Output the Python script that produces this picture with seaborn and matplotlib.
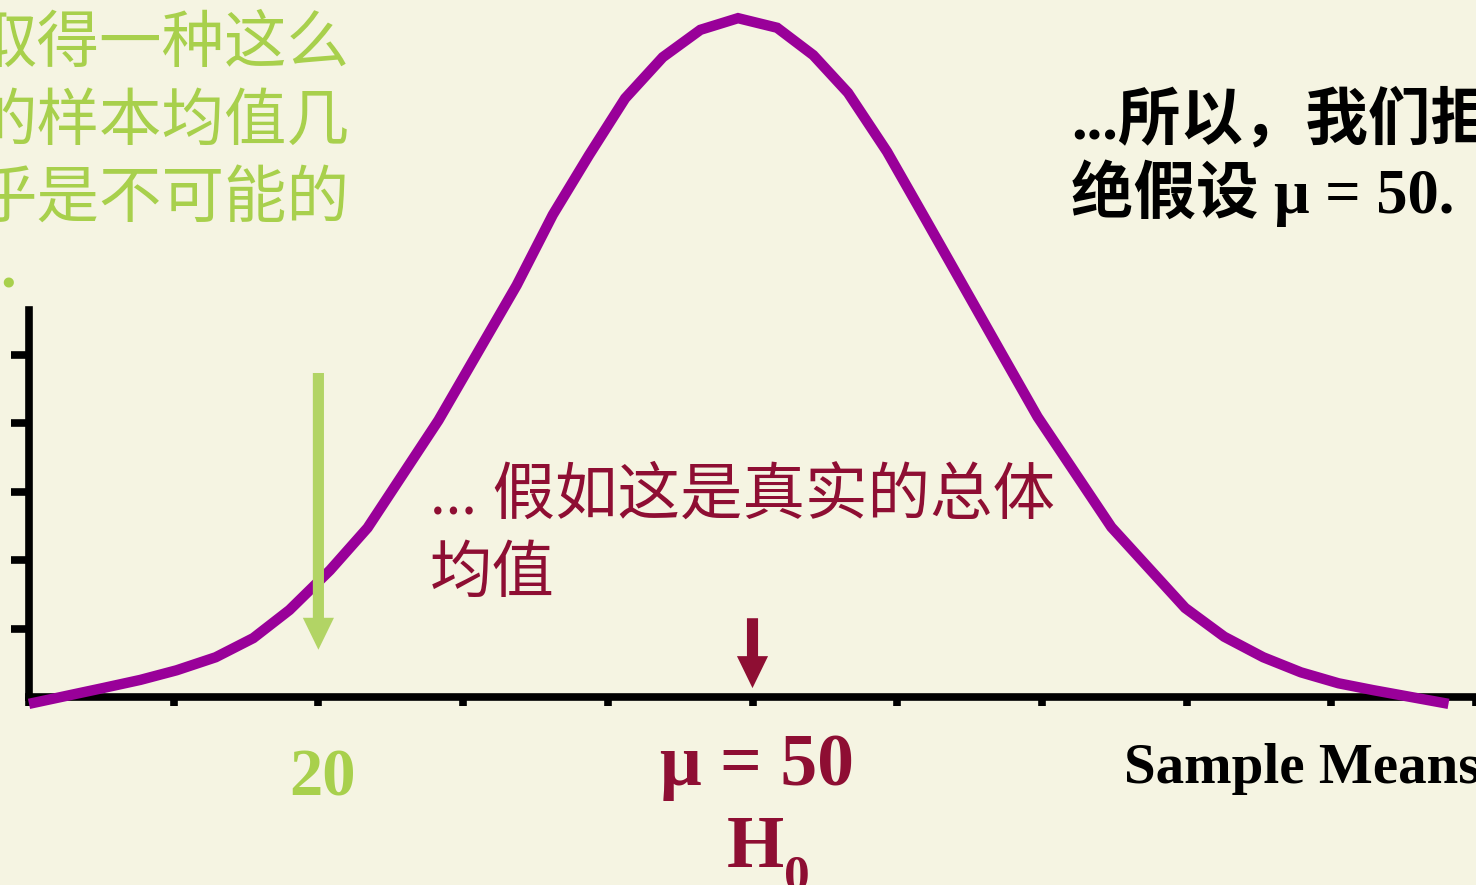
import pandas as pd
import seaborn as sns
import matplotlib.pyplot as plt

# Curve vertices (x = sample mean, y = height in y-tick units)
sample_means = [0, 5.1, 7.7, 10.2, 12.9, 15.5, 18.0, 20.8, 23.4, 28.3, 33.7, 36.2,
                38.7, 41.2, 43.8, 46.4, 49.0, 51.7, 54.2, 56.6, 59.3, 62.0, 64.6,
                67.2, 69.7, 74.8, 79.9, 82.6, 85.3, 87.9, 90.5, 92.9, 98.1]
heights = [-0.10, 0.13, 0.25, 0.39, 0.58, 0.86, 1.27, 1.85, 2.47, 4.04, 6.01, 7.04,
           7.91, 8.74, 9.34, 9.74, 9.91, 9.77, 9.37, 8.82, 7.96, 6.96, 5.99,
           5.02, 4.09, 2.48, 1.30, 0.88, 0.58, 0.36, 0.20, 0.10, -0.10]
x_ticks = [0, 10, 20, 30, 40, 50, 60, 70, 80, 90, 100]
y_ticks = [1, 2, 3, 4, 5]
sample_value = 20
null_mean = 50

green_lines = ["取得一种这么", "的样本均值几", "乎是不可能的"]
red_lines = ["... 假如这是真实的总体", "均值"]
black_lines = ["...所以，我们拒", "绝假设 μ = 50."]

bg = '#F5F4E2'
green = '#A8D04C'
green_arrow = '#B2D465'
dark_red = '#8E0E33'
purple = '#990099'

sns.set_theme(style='white', rc={'axes.facecolor': bg, 'figure.facecolor': bg})
plt.rcParams['font.family'] = ['Liberation Serif', 'Noto Sans CJK SC', 'DejaVu Sans']

W, H = 1476, 885
fig = plt.figure(figsize=(W / 100, H / 100), dpi=100)
ax = fig.add_axes([29 / W, 188 / H, 1447 / W, 697 / H])


def fx(px):
    return px / W


def fy(py):
    return 1 - py / H


df = pd.DataFrame({'mean': sample_means, 'height': heights})
sns.lineplot(data=df, x='mean', y='height', sort=False, estimator=None,
             color=purple, linewidth=7.5, ax=ax)
ax.lines[0].set_clip_on(False)
ax.lines[0].set_zorder(3)
ax.lines[0].set_solid_joinstyle('miter')
ax.lines[0].set_solid_capstyle('butt')

ax.set_xlim(0, 100)
ax.set_ylim(0, 697 / 68.5)
ax.set_xticks(x_ticks)
ax.set_yticks(y_ticks)
ax.set_xlabel('')
ax.set_ylabel('')
ax.tick_params(axis='y', left=True, length=13, width=5.5, color='black',
               direction='out', labelleft=False)
ax.tick_params(axis='x', bottom=True, length=6.5, width=5.5, color='black',
               direction='out', labelbottom=False)
for side in ['top', 'right']:
    ax.spines[side].set_visible(False)
for side in ['left', 'bottom']:
    ax.spines[side].set_color('black')
    ax.spines[side].set_linewidth(5.5)
ax.spines['left'].set_bounds(0, 5.65)

# arrows pointing at the sample value and at the hypothesised mean
arrow_style = 'simple,head_length=1.15,head_width=1.12,tail_width=0.4'
ax.annotate('', xy=(sample_value, 0.69), xytext=(sample_value, 4.73),
            arrowprops=dict(arrowstyle=arrow_style, mutation_scale=20,
                            color=green_arrow, lw=0, shrinkA=0, shrinkB=0))
ax.annotate('', xy=(null_mean, 0.13), xytext=(null_mean, 1.15),
            arrowprops=dict(arrowstyle=arrow_style, mutation_scale=20,
                            color=dark_red, lw=0, shrinkA=0, shrinkB=0))

# green note at top left (runs off the slide, as in the original)
for i, line in enumerate(green_lines):
    fig.text(fx(350), fy(62 + 77.5 * i), line, color=green, fontsize=45,
             fontweight=500, ha='right', va='baseline')
fig.text(fx(8), fy(288), '.', color=green, fontsize=45, fontweight='bold',
         ha='center', va='baseline')

# dark red note in the middle
for i, line in enumerate(red_lines):
    fig.text(fx(430), fy(514 + 78 * i), line, color=dark_red, fontsize=45,
             fontweight=500, ha='left', va='baseline')

# black conclusion at top right (runs off the slide, as in the original)
for i, line in enumerate(black_lines):
    fig.text(fx(1071), fy(138 + 75 * i), line, color='black', fontsize=45,
             fontweight='bold', ha='left', va='baseline')

# labels under the axis
fig.text(fx(322), fy(795), '20', color=green, fontsize=48, fontweight='bold',
         ha='center', va='baseline')
fig.text(fx(757), fy(785), 'μ = 50', color=dark_red, fontsize=53, fontweight='bold',
         ha='center', va='baseline')
fig.text(fx(784), fy(867), 'H', color=dark_red, fontsize=53, fontweight='bold',
         ha='right', va='baseline')
fig.text(fx(784), fy(889), '0', color=dark_red, fontsize=37, fontweight='bold',
         ha='left', va='baseline')
fig.text(fx(1124), fy(783), 'Sample Means', color='black', fontsize=41,
         fontweight='bold', ha='left', va='baseline')

fig.savefig('out.png', dpi=100, facecolor=bg)
